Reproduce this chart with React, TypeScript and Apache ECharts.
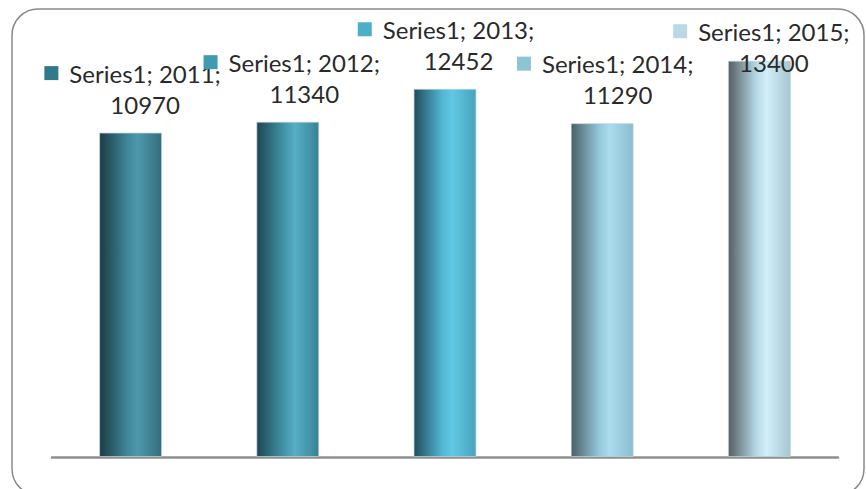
import React, { useEffect, useRef } from "react";
import * as echarts from "echarts";

const seriesName = "Series1";
const categories = ["2011", "2012", "2013", "2014", "2015"];
const values = [10970, 11340, 12452, 11290, 13400];
const keyColors = ["#31798b", "#409bb2", "#4aafc8", "#8ec4d3", "#bad9e4"];
const gradientStops = [
  ["#1b3c46", "#3f8799", "#4d98ab", "#336d7c"],
  ["#1d4651", "#4596ab", "#55afc6", "#3a8194"],
  ["#1f4d5b", "#52b6d3", "#60c8e5", "#48a2bb"],
  ["#4b5f67", "#93c8da", "#acdcee", "#89bccf"],
  ["#565f64", "#b5d8e4", "#d2eef9", "#a6c6d1"],
];
const labelShift = [
  [2, 0],
  [4, 0],
  [1, 0],
  [3, 0],
  [2, 30],
];

export default function App() {
  const ref = useRef<HTMLDivElement>(null);
  useEffect(() => {
    if (!ref.current) return;
    const chart = echarts.init(ref.current, undefined, { renderer: "svg" });
    const font = "Lato, 'Noto Sans', sans-serif";
    const txt = { fontFamily: font, fontSize: 24, color: "#2a2a2a", lineHeight: 31 };
    const data = values.map((v, i) => ({
      value: v,
      itemStyle: {
        color: new echarts.graphic.LinearGradient(0, 0, 1, 0, [
          { offset: 0, color: gradientStops[i][0] },
          { offset: 0.45, color: gradientStops[i][1] },
          { offset: 0.62, color: gradientStops[i][2] },
          { offset: 1, color: gradientStops[i][3] },
        ]),
        borderColor: "rgba(190,210,215,0.7)",
        borderWidth: 1,
      },
      label: {
        offset: labelShift[i],
        rich: {
          m: { width: 14, height: 14, backgroundColor: keyColors[i], lineHeight: 31 },
          g: { width: 11, lineHeight: 31 },
          sp: { width: 25, lineHeight: 31 },
          t: txt,
          v: txt,
        },
      },
    }));
    chart.setOption({
      animation: false,
      backgroundColor: "#ffffff",
      graphic: [
        {
          type: "rect",
          shape: { x: 12, y: 9, width: 852, height: 486, r: 26 },
          style: { fill: "none", stroke: "#8a8a8a", lineWidth: 1.5 },
          z: -10,
          silent: true,
        },
      ],
      grid: { left: 52, right: 28, top: 43, bottom: 32 },
      xAxis: {
        type: "category",
        data: categories,
        axisLine: { show: true, lineStyle: { color: "#8f8f8f", width: 2.5 } },
        axisTick: { show: false },
        axisLabel: { show: false },
      },
      yAxis: {
        type: "value",
        min: 0,
        max: 14000,
        show: false,
        splitLine: { show: false },
      },
      series: [
        {
          type: "bar",
          name: seriesName,
          barWidth: "40%",
          data,
          label: {
            show: true,
            position: "top",
            distance: 13,
            align: "center",
            formatter: (p: any) =>
              `{m|}{g|}{t|${seriesName}; ${p.name};}\n{sp|}{v|${p.value}}`,
          },
        },
      ],
    });
    return () => chart.dispose();
  }, []);
  return (
    <div
      ref={ref}
      style={{ position: "absolute", left: 0, top: 0, width: 866, height: 489 }}
    />
  );
}
